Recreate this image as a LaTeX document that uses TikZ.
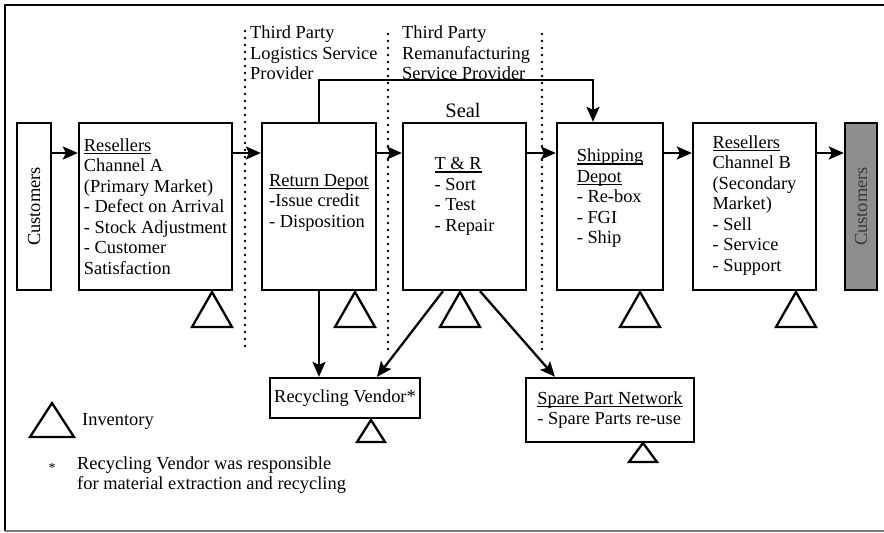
\documentclass[tikz,border=0pt]{standalone}
\usepackage{fontspec}
\setmainfont{Liberation Serif}
\usetikzlibrary{arrows.meta}
\definecolor{custfill}{HTML}{8E8E8E}
\definecolor{custtext}{HTML}{383838}
\definecolor{framegray}{HTML}{7A7A7A}
% underline set just below the baseline, crossing descenders
\newcommand\ulin[1]{\setbox0\hbox{#1}\rlap{\rule[-2.6pt]{\wd0}{1.1pt}}\box0}
\begin{document}
\begin{tikzpicture}[x=1pt,y=-1pt,
  box/.style={draw,line width=2.3pt,inner sep=0pt},
  txt/.style={align=left,inner sep=0pt,font=\fontsize{18.4}{20.5}\selectfont},
  arr/.style={line width=2.3pt,-{Stealth[length=15pt,width=13pt,inset=3pt]}},
  inv/.style={draw,line width=2.3pt,line join=miter},
  sepline/.style={line width=2.7pt,line cap=round,dash pattern=on 0pt off 7pt}]

\useasboundingbox (0,0) rectangle (884,533);

% outer frame
\draw[line width=2pt] (884,5) -- (5,5) -- (5,531);
\draw[line width=2pt,framegray] (5,531) -- (884,531);

% zone separators
\draw[sepline] (245,31) -- (245,352);
\draw[sepline] (388,34) -- (388,352);
\draw[sepline] (542,34) -- (542,352);

% zone headings
\node[txt,anchor=west] (tpl) at (250,53) {Third Party\\Logistics Service\\Provider};
\node[txt,anchor=west] (tpr) at (402,53) {Third Party\\Remanufacturing\\Service Provider};

% main chain
\node[box,minimum width=34,minimum height=167] (custL) at (34,206.5) {};
\node[txt,rotate=90] (custLtxt) at (custL.center) {Customers};

\node[box,minimum width=153,minimum height=167] (resA) at (155.5,206.5) {};
\node[txt] (resAtxt) at (resA.center) {\ulin{Resellers}\\Channel A\\(Primary Market)\\- Defect on Arrival\\- Stock Adjustment\\- Customer\\Satisfaction};

\node[box,minimum width=114,minimum height=167] (rd) at (319,206.5) {};
\node[txt] (rdtxt) at ([yshift=4pt]rd.center) {\ulin{Return Depot}\\-Issue credit\\- Disposition};

\node[box,minimum width=123,minimum height=167] (tr) at (464.5,206.5) {};
\node[txt] (trtxt) at ([yshift=10pt]tr.center) {\ulin{T \& R}\\- Sort\\- Test\\- Repair};
\node[txt,font=\fontsize{20.5}{24}\selectfont] (seal) at (463,110) {Seal};

\node[box,minimum width=106,minimum height=167] (ship) at (610,206.5) {};
\node[txt] (shiptxt) at ([yshift=8pt]ship.center) {\ulin{Shipping}\\\ulin{Depot}\\- Re-box\\- FGI\\- Ship};

\node[box,minimum width=123,minimum height=167] (resB) at (754.5,206.5) {};
\node[txt] (resBtxt) at ([yshift=1pt]resB.center) {\ulin{Resellers}\\Channel B\\(Secondary\\Market)\\- Sell\\- Service\\- Support};

\node[box,fill=custfill,minimum width=32,minimum height=167] (custR) at (861,206.5) {};
\node[txt,rotate=90,text=custtext] (custRtxt) at (custR.center) {Customers};

% end-of-life destinations
\node[box,minimum width=150,minimum height=40] (rv) at (345,398) {};
\node[txt] (rvtxt) at (rv.center) {Recycling Vendor*};
\node[box,minimum width=168,minimum height=64] (spn) at (610,410) {};
\node[txt] (spntxt) at (spn.center) {\ulin{Spare Part Network}\\- Spare Parts re-use};

% forward flow
\coordinate (rowy) at (0,153);
\draw[arr] (custL.east |- rowy) -- (resA.west |- rowy);
\draw[arr] (resA.east |- rowy) -- (rd.west |- rowy);
\draw[arr] (rd.east |- rowy) -- (tr.west |- rowy);
\draw[arr] (tr.east |- rowy) -- (ship.west |- rowy);
\draw[arr] (ship.east |- rowy) -- (resB.west |- rowy);
\draw[arr] (resB.east |- rowy) -- (custR.west |- rowy);

% bypass from return depot to shipping depot
\draw[arr] (rd.north) |- ([xshift=-17pt,yshift=42pt]ship.north) -- ([xshift=-17pt]ship.north);

% flows to recycling and spare parts
\draw[arr] (rd.south) -- (rd.south |- rv.north);
\draw[arr] ([xshift=-21.5pt]tr.south) -- ([xshift=32pt]rv.north);
\draw[arr] ([xshift=15.5pt]tr.south) -- ([xshift=-55pt]spn.north);

% inventory triangles
\draw[inv] (212,292) -- (232,327) -- (192,327) -- cycle;
\draw[inv] (355,292) -- (375,327) -- (335,327) -- cycle;
\draw[inv] (460,292) -- (480,327) -- (440,327) -- cycle;
\draw[inv] (640,292) -- (660,327) -- (620,327) -- cycle;
\draw[inv] (796,292) -- (816,327) -- (776,327) -- cycle;
\draw[inv] (371,420) -- (385,442) -- (357,442) -- cycle;
\draw[inv] (643,443) -- (657,462) -- (629,462) -- cycle;

% legend
\draw[inv] (52,403) -- (74,437) -- (30,437) -- cycle;
\node[txt,anchor=west] (invlbl) at (82,421) {Inventory};
\node[txt,font=\fontsize{14}{16}\selectfont] (star) at (52,468) {*};
\node[txt,anchor=west] (note) at (77,475) {Recycling Vendor was responsible\\for material extraction and recycling};
\end{tikzpicture}
\end{document}
